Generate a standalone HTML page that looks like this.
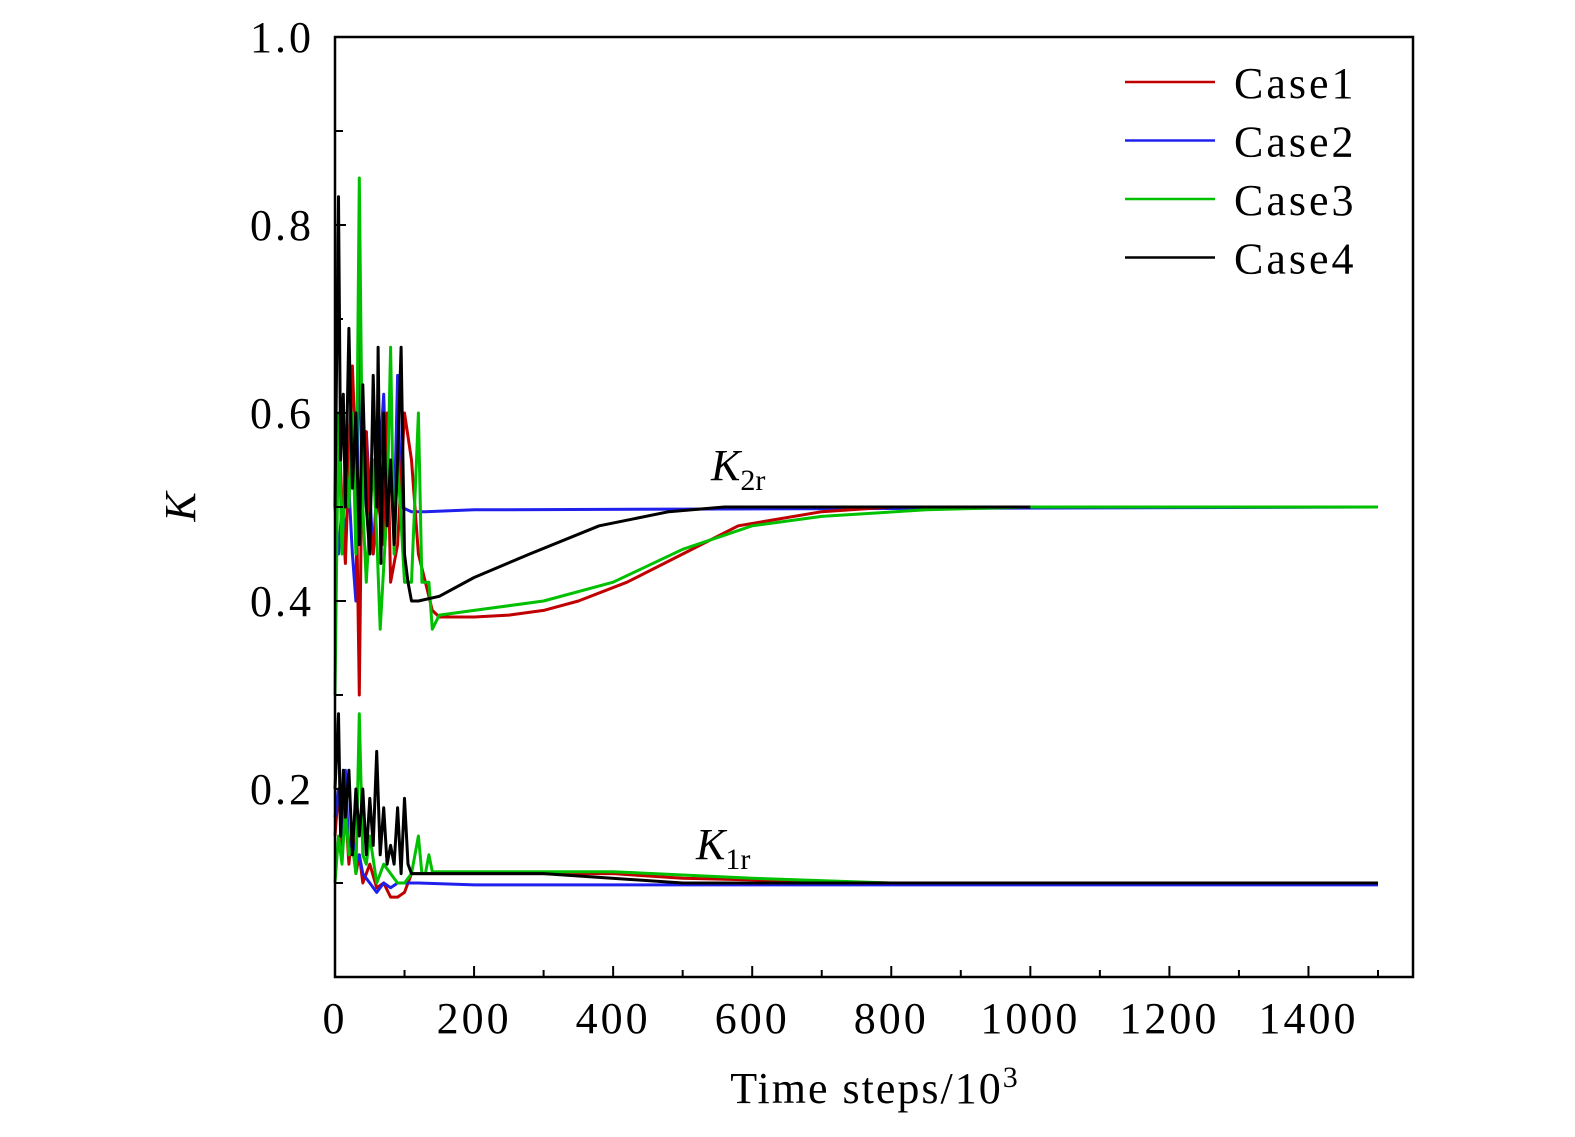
<!DOCTYPE html>
<html><head><meta charset="utf-8">
<style>
html,body{margin:0;padding:0;background:#fff;}
svg text{font-family:"Liberation Serif",serif;}
</style></head>
<body>
<svg id="chart" width="1575" height="1132" viewBox="0 0 1575 1132" xmlns="http://www.w3.org/2000/svg">
<g id="plot"></g>
<rect x="335" y="37" width="1078" height="940" fill="none" stroke="#000" stroke-width="2.5"/>
<g id="axes"></g>
<text x="0" y="0" font-size="44" font-style="italic" text-anchor="middle" transform="translate(195,507) rotate(-90)">K</text>
<text x="875" y="1103" font-size="44" letter-spacing="2" text-anchor="middle">Time steps/10<tspan dy="-16" font-size="30">3</tspan></text>
<text x="711" y="480" font-size="44" font-style="italic">K<tspan font-style="normal" font-size="30" dy="10">2r</tspan></text>
<text x="696" y="859" font-size="44" font-style="italic">K<tspan font-style="normal" font-size="30" dy="10">1r</tspan></text>
<g id="legend"></g>
</svg>
<script>
const xTicks=[0,200,400,600,800,1000,1200,1400];
const yTicks=[0.2,0.4,0.6,0.8,1.0];
const yTickLabels=["0.2","0.4","0.6","0.8","1.0"];
const seriesNames=["Case1","Case2","Case3","Case4"];
const seriesColors=["#c00000","#2020ee","#00c000","#000000"];
// K2r curves
const c1K2x=[0,5,10,15,20,25,30,35,38,45,50,55,60,70,75,80,90,100,110,120,130,140,150,200,250,300,350,420,500,580,700,800,1000,1500];
const c1K2y=[0.5,0.6,0.5,0.44,0.55,0.65,0.55,0.3,0.5,0.58,0.48,0.45,0.52,0.46,0.6,0.42,0.46,0.6,0.55,0.45,0.42,0.39,0.383,0.383,0.385,0.39,0.40,0.42,0.45,0.48,0.495,0.5,0.5,0.5];
const c2K2x=[0,5,10,15,20,25,30,35,40,45,55,60,70,75,80,85,90,95,110,130,200,1500];
const c2K2y=[0.5,0.45,0.5,0.47,0.52,0.45,0.4,0.7,0.5,0.58,0.45,0.5,0.62,0.5,0.55,0.48,0.64,0.5,0.495,0.495,0.497,0.5];
const c3K2x=[0,5,10,15,20,25,30,35,40,45,55,60,65,75,80,85,90,100,110,120,125,135,140,150,200,300,400,500,600,700,850,1000,1500];
const c3K2y=[0.3,0.6,0.45,0.55,0.5,0.6,0.45,0.85,0.5,0.42,0.55,0.47,0.37,0.5,0.67,0.45,0.55,0.42,0.42,0.6,0.42,0.42,0.37,0.385,0.39,0.40,0.42,0.455,0.48,0.49,0.497,0.5,0.5];
const c4K2x=[0,5,8,12,15,20,25,30,35,40,45,50,55,60,62,66,70,75,80,85,90,95,100,105,110,120,150,200,280,380,480,560,700,1000];
const c4K2y=[0.5,0.83,0.55,0.62,0.5,0.69,0.52,0.6,0.46,0.63,0.5,0.45,0.64,0.5,0.67,0.44,0.6,0.48,0.55,0.46,0.55,0.67,0.45,0.42,0.40,0.40,0.405,0.425,0.45,0.48,0.495,0.5,0.5,0.5];
// K1r curves
const c1K1x=[0,5,10,15,20,25,30,35,40,50,60,70,80,90,100,110,120,400,500,800,1500];
const c1K1y=[0.15,0.2,0.14,0.18,0.12,0.16,0.11,0.13,0.1,0.12,0.095,0.1,0.085,0.085,0.09,0.11,0.11,0.11,0.105,0.1,0.1];
const c2K1x=[0,5,10,15,20,25,30,35,40,50,60,70,80,90,100,110,120,200,500,1500];
const c2K1y=[0.17,0.2,0.15,0.22,0.13,0.15,0.12,0.13,0.11,0.1,0.09,0.1,0.095,0.1,0.1,0.1,0.1,0.098,0.098,0.098];
const c3K1x=[0,5,10,15,20,25,30,35,40,45,50,60,70,80,90,100,110,120,125,130,135,140,150,400,600,800,1500];
const c3K1y=[0.1,0.15,0.12,0.18,0.13,0.14,0.11,0.28,0.13,0.12,0.15,0.1,0.12,0.11,0.1,0.1,0.11,0.15,0.11,0.11,0.13,0.112,0.112,0.112,0.105,0.1,0.1];
const c4K1x=[0,5,8,12,15,20,25,30,35,40,45,50,55,60,65,70,75,80,85,90,95,100,105,110,120,300,500,1500];
const c4K1y=[0.2,0.28,0.15,0.22,0.17,0.22,0.13,0.2,0.15,0.2,0.13,0.19,0.14,0.24,0.13,0.18,0.12,0.14,0.12,0.18,0.11,0.19,0.12,0.11,0.11,0.11,0.1,0.1];

const X=v=>335+v*(1378-335)/1500;
const Y=v=>977-v*940;
const NS="http://www.w3.org/2000/svg";
const plot=document.getElementById('plot'),axes=document.getElementById('axes'),legend=document.getElementById('legend');
function mk(t,a,p){const e=document.createElementNS(NS,t);for(const k in a)e.setAttribute(k,a[k]);p.appendChild(e);return e;}
function line(xs,ys,i,name){
  const d=xs.map((x,j)=>(j?'L':'M')+X(x).toFixed(1)+' '+Y(ys[j]).toFixed(1)).join(' ');
  const p=mk('path',{d:d,fill:'none',stroke:seriesColors[i],'stroke-width':3,'stroke-linejoin':'round'},plot);
  
  
}
line(c2K2x,c2K2y,1,'case2-k2r-line');line(c1K2x,c1K2y,0,'case1-k2r-line');line(c3K2x,c3K2y,2,'case3-k2r-line');line(c4K2x,c4K2y,3,'case4-k2r-line');
line(c1K1x,c1K1y,0,'case1-k1r-line');line(c2K1x,c2K1y,1,'case2-k1r-line');line(c3K1x,c3K1y,2,'case3-k1r-line');line(c4K1x,c4K1y,3,'case4-k1r-line');
for(let v=100;v<=1500;v+=100){
  const t=mk('line',{x1:X(v),x2:X(v),y1:977,y2:v%200===0?966:970,stroke:'#000','stroke-width':2},axes);
  
  
}
xTicks.forEach(v=>{
  const t=mk('text',{x:X(v),y:1033,'font-size':44,'letter-spacing':3,'text-anchor':'middle'},axes);t.textContent=String(v);
  
  
});
for(let k=1;k<10;k++){
  const v=k/10;
  const t=mk('line',{x1:335,x2:k%2===0?346:343,y1:Y(v),y2:Y(v),stroke:'#000','stroke-width':2},axes);
  
  
}
yTicks.forEach((v,i)=>{
  const t=mk('text',{x:314,y:Y(v)+15,'font-size':44,'letter-spacing':3,'text-anchor':'end'},axes);t.textContent=yTickLabels[i];
  
  
});
seriesNames.forEach((n,i)=>{
  const y=82+i*58.5;
  const l=mk('line',{x1:1125,x2:1215,y1:y,y2:y,stroke:seriesColors[i],'stroke-width':2.5},legend);
  
  
  const t=mk('text',{x:1234,y:y+16,'font-size':44,'letter-spacing':3},legend);t.textContent=n;
  
  
});
</script>
</body></html>
